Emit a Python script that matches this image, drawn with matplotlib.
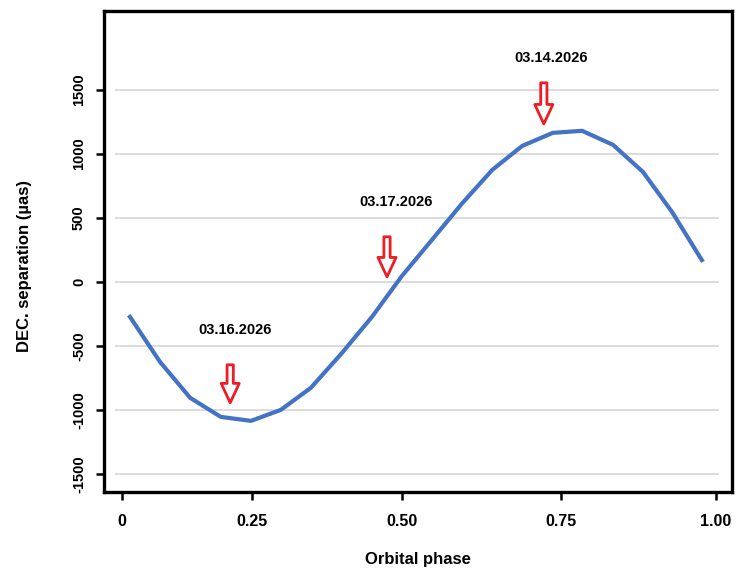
import numpy as np
import matplotlib
matplotlib.use("Agg")
import matplotlib.pyplot as plt

plt.rcParams['font.family'] = ['Liberation Sans', 'DejaVu Sans']
plt.rcParams['axes.unicode_minus'] = False

# curve
phase = [0.013, 0.073, 0.131, 0.190, 0.248, 0.298, 0.348, 0.400, 0.450, 0.500,
         0.547, 0.594, 0.642, 0.689, 0.737, 0.784, 0.834, 0.882, 0.929, 0.979]
dec_sep = [-260, -625, -906, -1055, -1086, -1000, -828, -555, -273, 47,
           328, 610, 875, 1062, 1164, 1180, 1070, 860, 547, 156]

x_ticks = [0, 0.25, 0.50, 0.75, 1.00]
x_ticklabels = ['0', '0.25', '0.50', '0.75', '1.00']
y_ticks = [-1500, -1000, -500, 0, 500, 1000, 1500]

event_labels = ['03.16.2026', '03.17.2026', '03.14.2026']
event_phase = [0.208, 0.475, 0.723]
arrow_top = [-648, 352, 1555]
arrow_tip = [-945, 39, 1234]
label_phase = [0.217, 0.490, 0.734]
label_y = [-375, 625, 1750]

# the original phase axis is not evenly spaced; reproduce with a piecewise scale
knots = np.array([0, 0.25, 0.5, 0.75, 1.0])
knot_pos = np.array([0, 130, 280, 439, 594], dtype=float)


def _pw(x, xp, fp):
    x = np.asarray(x, dtype=float)
    y = np.interp(x, xp, fp)
    y = np.where(x < xp[0], fp[0] + (x - xp[0]) * (fp[1] - fp[0]) / (xp[1] - xp[0]), y)
    y = np.where(x > xp[-1], fp[-1] + (x - xp[-1]) * (fp[-1] - fp[-2]) / (xp[-1] - xp[-2]), y)
    return y


def fwd(x):
    return _pw(x, knots, knot_pos)


def inv(y):
    return _pw(y, knot_pos, knots)


fig = plt.figure(figsize=(7.38, 5.72), dpi=100)
ax = fig.add_axes([0.141, 0.140, 0.851, 0.841])
ax.set_xscale('function', functions=(fwd, inv))
ax.set_xlim(-0.0346, 1.026)
ax.set_ylim(-1641, 2117)

ax.hlines(y_ticks, -0.0135, 1.005, color='#d9d9d9', lw=1.3, zorder=0)
ax.plot(phase, dec_sep, color='#4472c4', lw=3.0, solid_capstyle='butt', zorder=2)

for i in range(len(event_labels)):
    ax.annotate('', xy=(event_phase[i], arrow_tip[i]), xytext=(event_phase[i], arrow_top[i]),
                arrowprops=dict(arrowstyle='simple,head_length=1.4,head_width=1.3,tail_width=0.45',
                                fc='white', ec='#ee1c25', lw=2.0, shrinkA=0, shrinkB=0,
                                mutation_scale=10), zorder=3)
    ax.text(label_phase[i], label_y[i], event_labels[i], ha='center', va='center',
            fontsize=10.5, fontweight='bold', color='black')

ax.set_xticks(x_ticks)
ax.set_xticklabels(x_ticklabels)
ax.minorticks_off()
ax.set_yticks(y_ticks)
ax.set_yticklabels([str(v) for v in y_ticks], rotation=90, va='center')

for s in ax.spines.values():
    s.set_linewidth(2.4)
    s.set_color('black')
ax.tick_params(axis='both', width=1.8, length=6, direction='out', colors='black')
ax.tick_params(axis='x', pad=10, labelsize=11.5)
ax.tick_params(axis='y', pad=7, labelsize=10.5)
for lab in ax.get_xticklabels() + ax.get_yticklabels():
    lab.set_fontweight('bold')
    lab.set_color('black')

ax.set_xlabel('Orbital phase', fontsize=12, fontweight='bold', color='black')
ax.xaxis.set_label_coords(0.5, -0.125)
ax.set_ylabel('DEC. separation (µas)', fontsize=12, fontweight='bold', color='black')
ax.yaxis.set_label_coords(-0.115, 0.47)

fig.savefig('out.png', dpi=100)
